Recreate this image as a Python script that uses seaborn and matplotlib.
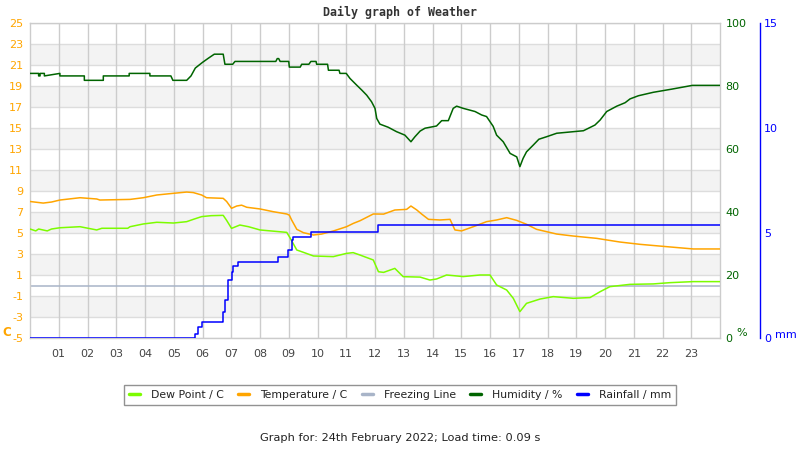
import matplotlib
matplotlib.use("Agg")
import matplotlib.pyplot as plt
import seaborn as sns
import numpy as np
import pandas as pd
from matplotlib.lines import Line2D

# ---------------- data ----------------
hum_h = [0.0, 0.3, 0.3, 0.35, 0.35, 0.5, 0.5, 1.04, 1.04, 1.89, 1.89, 2.55, 2.55, 2.62, 3.45, 3.45,
         4.17, 4.17, 4.9, 4.97, 5.45, 5.6, 5.75, 6.0, 6.2, 6.41, 6.72, 6.78, 7.05, 7.13,
         8.55, 8.6, 8.65, 8.7, 9.0, 9.02, 9.4, 9.45, 9.7, 9.77, 9.95, 9.97, 10.35, 10.38,
         10.75, 10.78, 11.0, 11.13, 11.36, 11.54, 11.71, 11.88, 12.0, 12.06, 12.17, 12.46,
         12.75, 13.04, 13.25, 13.39, 13.57, 13.74, 14.14, 14.32, 14.55, 14.72, 14.84, 15.07,
         15.48, 15.71, 15.88, 16.11, 16.23, 16.46, 16.70, 16.93, 17.04, 17.15, 17.27, 17.51,
         17.70, 17.97, 18.32, 19.25, 19.65, 19.83, 20.06, 20.41, 20.70, 20.87, 21.16, 21.68,
         22.32, 23.04, 24.0]
hum_v = [84.0, 84.0, 83.2, 83.2, 84.0, 84.0, 83.2, 84.0, 83.2, 83.2, 81.8, 81.8, 83.2, 83.2, 83.2, 84.0,
         84.0, 83.2, 83.2, 81.8, 81.8, 83.2, 85.7, 87.5, 88.8, 90.1, 90.1, 86.9, 86.9, 87.8,
         87.8, 88.7, 88.7, 87.8, 87.8, 86.0, 86.0, 86.9, 86.9, 87.8, 87.8, 86.9, 86.9, 85.0,
         85.0, 84.0, 84.0, 82.4, 80.3, 78.7, 77.1, 75.0, 72.9, 69.7, 67.9, 66.9,
         65.5, 64.4, 62.3, 63.9, 65.7, 66.6, 67.3, 69.0, 69.0, 72.9, 73.6, 72.9,
         71.9, 70.8, 70.3, 67.2, 64.4, 62.3, 58.6, 57.5, 54.4, 57.0, 59.1, 61.3,
         63.1, 63.9, 65.0, 65.8, 67.6, 69.2, 71.9, 73.6, 74.7, 75.9, 76.9, 78.0,
         79.0, 80.2, 80.2]

temp_h = [0.0, 0.46, 0.75, 1.04, 1.74, 2.32, 2.43, 3.48, 3.94, 4.41, 4.99, 5.45, 5.68, 5.97,
          6.14, 6.72, 6.84, 7.01, 7.19, 7.36, 7.54, 8.0, 8.46, 8.93, 9.02, 9.10, 9.28, 9.51,
          9.86, 10.14, 10.55, 11.01, 11.25, 11.48, 11.94, 12.3, 12.69, 13.1, 13.25, 13.45,
          13.62, 13.86, 14.26, 14.61, 14.78, 15.01, 15.42, 15.88, 16.23, 16.58, 16.93, 17.27,
          17.62, 18.32, 18.9, 19.71, 20.52, 21.22, 22.14, 23.07, 24.0]
temp_v = [8.0, 7.85, 7.95, 8.14, 8.36, 8.24, 8.14, 8.2, 8.36, 8.62, 8.78, 8.9, 8.85, 8.62,
          8.36, 8.3, 8.0, 7.35, 7.57, 7.65, 7.45, 7.29, 7.03, 6.81, 6.7, 6.24, 5.35, 5.03,
          4.81, 4.9, 5.19, 5.6, 5.92, 6.17, 6.81, 6.8, 7.19, 7.25, 7.57, 7.2,
          6.81, 6.3, 6.24, 6.3, 5.29, 5.2, 5.6, 6.08, 6.24, 6.46, 6.2, 5.83,
          5.35, 4.9, 4.71, 4.49, 4.14, 3.92, 3.70, 3.48, 3.48]

dew_h = [0.0, 0.2, 0.3, 0.6, 0.75, 1.04, 1.74, 2.32, 2.5, 3.4, 3.48, 3.94, 4.41, 4.99, 5.45,
         5.68, 5.97, 6.3, 6.72, 6.84, 7.01, 7.3, 7.6, 8.0, 8.93, 9.02, 9.28, 9.51, 9.86, 10.55,
         11.01, 11.24, 11.48, 11.94, 12.12, 12.3, 12.69, 12.98, 13.57, 13.91, 14.14, 14.49,
         15.07, 15.65, 16.0, 16.23, 16.58, 16.81, 17.04, 17.27, 17.74, 18.2, 18.9, 19.48,
         19.83, 20.17, 20.87, 21.68, 22.26, 23.07, 24.0]
dew_v = [5.38, 5.2, 5.38, 5.2, 5.38, 5.5, 5.6, 5.29, 5.45, 5.45, 5.6, 5.86, 6.02, 5.95, 6.08,
         6.3, 6.56, 6.65, 6.68, 6.2, 5.44, 5.76, 5.6, 5.29, 5.06, 4.65, 3.38, 3.16, 2.81, 2.75,
         3.06, 3.13, 2.9, 2.43, 1.31, 1.25, 1.63, 0.84, 0.8, 0.52, 0.62, 1.0,
         0.85, 1.0, 1.0, 0.05, -0.43, -1.22, -2.49, -1.7, -1.29, -1.06, -1.22, -1.15,
         -0.59, -0.11, 0.11, 0.15, 0.27, 0.37, 0.37]

rain_h = [0.0, 5.74, 5.86, 5.97, 6.67, 6.72, 6.78, 6.9, 7.01, 7.07, 7.24, 8.63, 8.99, 9.1,
          9.16, 9.77, 12.1, 24.0]
rain_v = [0.0, 0.2, 0.54, 0.75, 0.75, 1.25, 1.81, 2.76, 3.16, 3.44, 3.63, 3.84, 4.19, 4.67,
          4.83, 5.03, 5.38, 5.38]

freeze_h = [0.0, 24.0]
freeze_v = [0.0, 0.0]

hour_ticks = list(range(1, 24))
hour_labels = [f"{h:02d}" for h in hour_ticks]
temp_ticks = list(range(-5, 26, 2))
hum_ticks = [0, 20, 40, 60, 80, 100]
rain_ticks = [0, 5, 10, 15]

series_names = ["Dew Point / C", "Temperature / C", "Freezing Line", "Humidity / %", "Rainfall / mm"]

# ---------------- style ----------------
sns.set_theme(style="white")
plt.rcParams['font.family'] = ['DejaVu Sans']
plt.rcParams['axes.unicode_minus'] = False

C_DEW = "#7CFC00"
C_TEMP = "#FFA500"
C_FRZ = "#A8B4C8"
C_HUM = "#006400"
C_RAIN = "#0000FF"
FS = 8

fig = plt.figure(figsize=(8, 4.5), dpi=100)
L, R, T, B = 30/800, 720/800, 1 - 23/450, 1 - 338/450
ax = fig.add_axes([L, B, R - L, T - B])

# alternating bands
for lo in range(-3, 25, 4):
    ax.axhspan(lo, lo + 2, color="#f3f3f3", zorder=0, lw=0)
for t in temp_ticks:
    ax.axhline(t, color="#dddddd", lw=1, zorder=0.5)
for h in hour_ticks:
    ax.axvline(h, color="#cccccc", lw=1, zorder=0.5)

for s in ax.spines.values():
    s.set_color("#cccccc")
    s.set_linewidth(1)

def draw(a, xs, ys, color, z=3, ds="default"):
    sns.lineplot(x=xs, y=ys, ax=a, color=color, linewidth=1.1, drawstyle=ds,
                 estimator=None, sort=False, zorder=z, legend=False)

draw(ax, freeze_h, freeze_v, C_FRZ, 2)
draw(ax, dew_h, dew_v, C_DEW)
draw(ax, temp_h, temp_v, C_TEMP)
ax.set_xlim(0, 24)
ax.set_ylim(-5, 25)
ax.set_xlabel("")
ax.set_ylabel("")
ax.set_xticks(hour_ticks)
ax.set_xticklabels(hour_labels)
ax.set_yticks(temp_ticks)
ax.tick_params(axis="x", length=0, pad=8, labelsize=FS, labelcolor="#444444")
ax.tick_params(axis="y", length=0, pad=5, labelsize=FS, labelcolor=C_TEMP)

# humidity axis
axh = ax.twinx()
for s in axh.spines.values():
    s.set_visible(False)
draw(axh, hum_h, hum_v, C_HUM)
axh.set_xlim(0, 24)
axh.set_ylim(0, 100)
axh.set_yticks(hum_ticks)
axh.tick_params(axis="y", length=0, pad=4, labelsize=FS, labelcolor=C_HUM)
axh.set_ylabel("")

# rainfall axis
axr = ax.twinx()
axr.spines["right"].set_position(("axes", (760 - 30) / 690))
for k, s in axr.spines.items():
    s.set_visible(k == "right")
axr.spines["right"].set_color(C_RAIN)
axr.spines["right"].set_linewidth(1)
draw(axr, rain_h, rain_v, C_RAIN, 4, "steps-post")
axr.set_xlim(0, 24)
axr.set_ylim(0, 15)
axr.set_yticks(rain_ticks)
axr.tick_params(axis="y", length=0, pad=3, labelsize=FS, labelcolor=C_RAIN)
axr.set_ylabel("")

# unit labels
fig.text(2/800, 1 - 332/450, "C", color=C_TEMP, fontsize=8.5, fontweight="bold", va="center", ha="left")
fig.text(736/800, 1 - 333/450, "%", color=C_HUM, fontsize=FS, va="center", ha="left")
fig.text(775/800, 1 - 335/450, "mm", color=C_RAIN, fontsize=FS, va="center", ha="left")

# title & footer
fig.text(0.5, 1 - 12/450, "Daily graph of Weather", ha="center", va="center",
         fontsize=8.4, fontweight="bold", family="DejaVu Sans Mono", color="#333333")
fig.text(0.5, 1 - 438/450, "Graph for: 24th February 2022; Load time: 0.09 s", ha="center",
         va="center", fontsize=8.2, color="#222222")

handles = [Line2D([0], [0], color=c, lw=2.5) for c in [C_DEW, C_TEMP, C_FRZ, C_HUM, C_RAIN]]
leg = fig.legend(handles, series_names, loc="center", bbox_to_anchor=(0.5, 1 - 395/450), ncol=5,
                 fontsize=7.8, frameon=True, fancybox=False, edgecolor="#777777",
                 handlelength=1.0, handletextpad=1.0, columnspacing=1.35, borderpad=0.5,
                 borderaxespad=0)
leg.get_frame().set_linewidth(1)
for t in leg.get_texts():
    t.set_color("#222222")

fig.savefig("out.png", dpi=100)
